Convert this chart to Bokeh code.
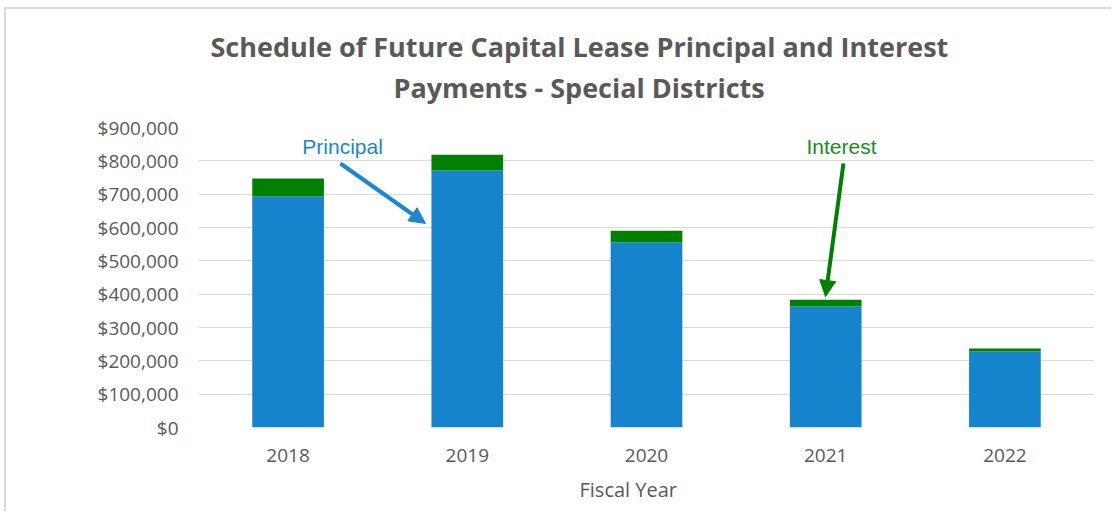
from bokeh.plotting import figure
from bokeh.models import (Range1d, FixedTicker, NumeralTickFormatter, Title, Arrow,
                          NormalHead, Label, ColumnDataSource)
from bokeh.embed import file_html
from bokeh.resources import INLINE

# ---- data ----
years = ["2018", "2019", "2020", "2021", "2022"]
principal = [693000, 771000, 556000, 363000, 228000]
interest = [54000, 47000, 34000, 20000, 9000]
y_ticks = [0, 100000, 200000, 300000, 400000, 500000, 600000, 700000, 800000, 900000]

BLUE = "#1584CD"
GREEN = "#008000"
GRAY = "#595959"
GRID = "#d9d9d9"

src = ColumnDataSource(dict(x=list(range(len(years))), principal=principal, interest=interest))

p = figure(width=1107, height=504, x_range=Range1d(-0.5, len(years) - 0.5),
           y_range=Range1d(0, 900000), output_backend="svg", toolbar_location=None,
           min_border_left=192, min_border_right=19, min_border_top=118, min_border_bottom=86)
p.styles = {"margin-left": "4px", "margin-top": "7px",
            "border-left": "2px solid #d9d9d9", "border-top": "2px solid #d9d9d9"}
p.outline_line_color = None
p.background_fill_color = "white"
p.border_fill_color = "white"

p.vbar_stack(["principal", "interest"], x="x", width=0.4, color=[BLUE, GREEN],
             line_color=None, source=src)

# axes
p.xaxis.ticker = FixedTicker(ticks=list(range(len(years))))
p.xaxis.major_label_overrides = {i: y for i, y in enumerate(years)}
p.xaxis.axis_line_color = None
p.xaxis.major_tick_line_color = None
p.xaxis.minor_tick_line_color = None
p.xaxis.major_label_text_font = "Open Sans"
p.xaxis.major_label_text_font_size = "19px"
p.xaxis.major_label_text_color = GRAY
p.xaxis.major_label_standoff = 15

p.yaxis.ticker = FixedTicker(ticks=y_ticks)
p.yaxis.formatter = NumeralTickFormatter(format="$0,0")
p.yaxis.axis_line_color = None
p.yaxis.major_tick_line_color = None
p.yaxis.minor_tick_line_color = None
p.yaxis.major_label_text_font = "Open Sans"
p.yaxis.major_label_text_font_size = "19px"
p.yaxis.major_label_text_color = GRAY
p.yaxis.major_label_standoff = 14

p.xgrid.visible = False
p.ygrid.ticker = FixedTicker(ticks=y_ticks)
p.ygrid.grid_line_color = GRID
p.ygrid.grid_line_width = 1

# titles
p.add_layout(Title(text="Payments - Special Districts", align="left", offset=195,
                   text_font="Open Sans", text_font_size="27px", text_font_style="bold",
                   text_color=GRAY, standoff=43), "above")
p.add_layout(Title(text="Schedule of Future Capital Lease Principal and Interest", align="left",
                   offset=12, text_font="Open Sans", text_font_size="27px",
                   text_font_style="bold", text_color=GRAY, standoff=-38), "above")
p.add_layout(Title(text="Fiscal Year", align="left", offset=381, text_font="Open Sans",
                   text_font_size="20px", text_font_style="normal", text_color=GRAY,
                   standoff=19), "below")

# annotations
p.add_layout(Arrow(end=NormalHead(size=16, fill_color="#1B87CF", line_color="#1B87CF", line_width=1),
                   x_start=0.292, y_start=792000, x_end=0.767, y_end=612000,
                   line_color="#1B87CF", line_width=4))
p.add_layout(Label(x=0.304, y=844000, text="Principal", text_align="center",
                   text_baseline="middle", text_font="Liberation Sans", text_font_size="21px",
                   text_color="#1B87CF"))
p.add_layout(Arrow(end=NormalHead(size=16, fill_color=GREEN, line_color=GREEN, line_width=1),
                   x_start=3.099, y_start=792000, x_end=2.999, y_end=393000,
                   line_color=GREEN, line_width=4))
p.add_layout(Label(x=3.088, y=844000, text="Interest", text_align="center",
                   text_baseline="middle", text_font="Liberation Sans", text_font_size="21px",
                   text_color="#1a8c1a"))

open("out.html", "w").write(file_html(p, INLINE))
